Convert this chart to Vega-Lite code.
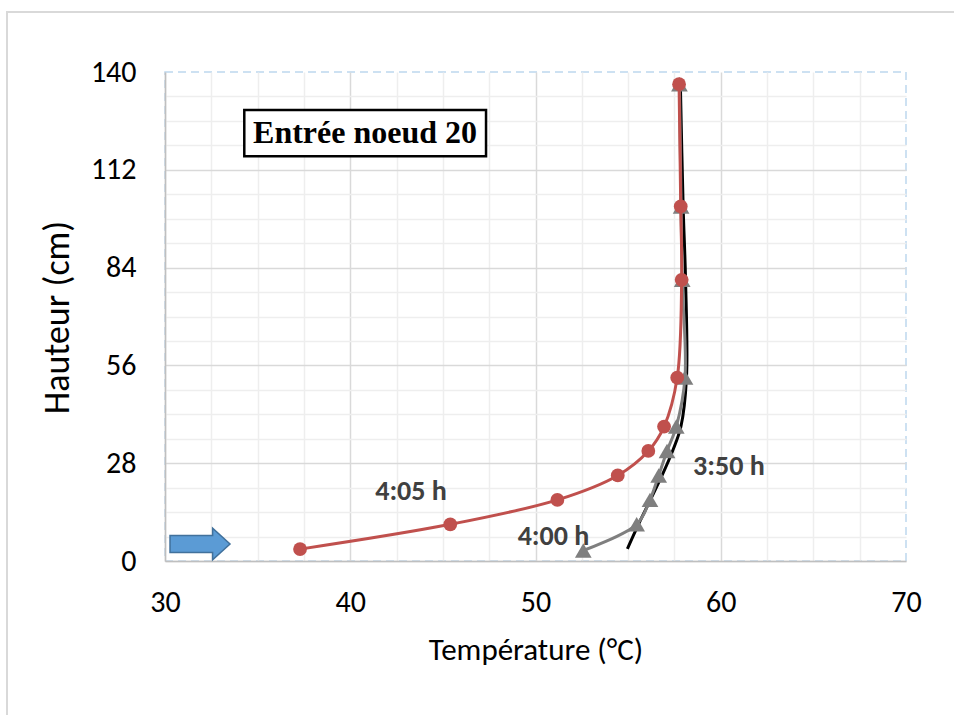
{
  "$schema": "https://vega.github.io/schema/vega-lite/v6.json",
  "width": 741,
  "height": 489,
  "autosize": "none",
  "padding": {"left": 165, "top": 72, "right": 48, "bottom": 154},
  "background": "white",
  "config": {
    "view": {"stroke": "#BDD7EE", "strokeDash": [8, 5], "strokeWidth": 1.5},
    "font": "Carlito, Lato, sans-serif"
  },
  "datasets": {
    "profils": [
      {"serie": "3:50 h", "T": 54.96, "h": 3.5},
      {"serie": "3:50 h", "T": 55.56, "h": 10.5},
      {"serie": "3:50 h", "T": 56.2, "h": 17.5},
      {"serie": "3:50 h", "T": 56.83, "h": 24.5},
      {"serie": "3:50 h", "T": 57.4, "h": 31.5},
      {"serie": "3:50 h", "T": 57.85, "h": 38.5},
      {"serie": "3:50 h", "T": 58.15, "h": 52.5},
      {"serie": "3:50 h", "T": 58.1, "h": 80.5},
      {"serie": "3:50 h", "T": 57.97, "h": 101.5},
      {"serie": "3:50 h", "T": 57.82, "h": 136.5},
      {"serie": "4:00 h", "T": 52.58, "h": 3.0},
      {"serie": "4:00 h", "T": 55.46, "h": 10.5},
      {"serie": "4:00 h", "T": 56.18, "h": 17.5},
      {"serie": "4:00 h", "T": 56.65, "h": 24.5},
      {"serie": "4:00 h", "T": 57.1, "h": 31.5},
      {"serie": "4:00 h", "T": 57.6, "h": 38.5},
      {"serie": "4:00 h", "T": 58.07, "h": 52.5},
      {"serie": "4:00 h", "T": 57.92, "h": 80.5},
      {"serie": "4:00 h", "T": 57.86, "h": 101.5},
      {"serie": "4:00 h", "T": 57.77, "h": 136.5},
      {"serie": "4:05 h", "T": 37.29, "h": 3.4},
      {"serie": "4:05 h", "T": 45.4, "h": 10.5},
      {"serie": "4:05 h", "T": 51.18, "h": 17.5},
      {"serie": "4:05 h", "T": 54.44, "h": 24.5},
      {"serie": "4:05 h", "T": 56.09, "h": 31.5},
      {"serie": "4:05 h", "T": 56.94, "h": 38.5},
      {"serie": "4:05 h", "T": 57.65, "h": 52.5},
      {"serie": "4:05 h", "T": 57.89, "h": 80.5},
      {"serie": "4:05 h", "T": 57.84, "h": 101.5},
      {"serie": "4:05 h", "T": 57.75, "h": 136.5}
    ],
    "etiquettes": [
      {"label": "4:05 h", "T": 43.28, "h": 19.75},
      {"label": "4:00 h", "T": 50.97, "h": 6.73},
      {"label": "3:50 h", "T": 60.44, "h": 26.9}
    ],
    "fleche": [{"T": 31.89, "h": 4.87}]
  },
  "resolve": {"axis": {"x": "independent", "y": "independent"}},
  "layer": [
    {
      "data": {"values": [{}]},
      "mark": {"type": "rect", "fill": null, "stroke": "#D9D9D9", "strokeWidth": 2},
      "encoding": {
        "x": {"datum": 21.47, "type": "quantitative", "scale": {"domain": [30, 70], "nice": false, "zero": false}, "axis": null},
        "x2": {"datum": 80},
        "y": {"datum": 157.2, "type": "quantitative", "scale": {"domain": [0, 140], "nice": false, "zero": false}, "axis": null},
        "y2": {"datum": -60}
      }
    },
    {
      "data": {"name": "profils"},
      "transform": [{"filter": "datum.serie == '3:50 h'"}],
      "mark": {"type": "line", "color": "#000000", "strokeWidth": 3, "interpolate": "catmull-rom"},
      "encoding": {
        "x": {
          "field": "T", "type": "quantitative",
          "scale": {"domain": [30, 70], "nice": false, "zero": false},
          "axis": {"orient": "bottom", "values": [32.5, 35, 37.5, 42.5, 45, 47.5, 52.5, 55, 57.5, 62.5, 65, 67.5], "grid": true, "gridColor": "#EEEEEE", "gridWidth": 1.5, "labels": false, "ticks": false, "domain": false, "title": null}
        },
        "y": {
          "field": "h", "type": "quantitative",
          "scale": {"domain": [0, 140], "nice": false, "zero": false},
          "axis": {"orient": "left", "values": [7, 14, 21, 35, 42, 49, 63, 70, 77, 91, 98, 105, 119, 126, 133], "grid": true, "gridColor": "#EEEEEE", "gridWidth": 1.5, "labels": false, "ticks": false, "domain": false, "title": null}
        },
        "order": {"field": "h", "type": "quantitative"}
      }
    },
    {
      "data": {"name": "profils"},
      "transform": [{"filter": "datum.serie == '4:00 h'"}],
      "mark": {"type": "line", "color": "#7F7F7F", "strokeWidth": 3, "interpolate": "catmull-rom", "point": {"shape": "triangle-up", "size": 280, "filled": true, "color": "#7F7F7F", "opacity": 1}},
      "encoding": {
        "x": {
          "field": "T", "type": "quantitative",
          "scale": {"domain": [30, 70], "nice": false, "zero": false},
          "axis": {
            "orient": "bottom", "values": [30, 40, 50, 60, 70], "grid": true,
            "gridColor": "#D9D9D9", "gridWidth": 1.5,
            "gridOpacity": {"condition": {"test": "datum.value == 70", "value": 0}, "value": 1},
            "domain": true, "domainColor": "#BFBFBF", "domainWidth": 1.5, "ticks": false,
            "labelFlush": false, "labelOverlap": false,
            "labelFontSize": 30, "labelColor": "#000000", "labelPadding": 26, "labelFont": "Carlito, Lato, sans-serif",
            "title": "Température (°C)", "titleFontSize": 31, "titleFontWeight": "normal", "titleColor": "#000000", "titleFont": "Carlito, Lato, sans-serif",
            "titleBaseline": "alphabetic", "titleY": 98, "titleX": 370.5, "titleAlign": "center"
          }
        },
        "y": {
          "field": "h", "type": "quantitative",
          "scale": {"domain": [0, 140], "nice": false, "zero": false},
          "axis": {
            "orient": "left", "values": [0, 28, 56, 84, 112, 140], "grid": true,
            "gridColor": "#D9D9D9", "gridWidth": 1.5,
            "gridOpacity": {"condition": {"test": "datum.value == 140", "value": 0}, "value": 1},
            "domain": true, "domainColor": "#BFBFBF", "domainWidth": 1.5, "ticks": false,
            "labelFlush": false, "labelOverlap": false,
            "labelFontSize": 30, "labelColor": "#000000", "labelPadding": 29, "labelFont": "Carlito, Lato, sans-serif",
            "title": "Hauteur (cm)", "titleFontSize": 36, "titleFontWeight": "normal", "titleColor": "#000000", "titleFont": "Carlito, Lato, sans-serif",
            "titleAngle": -90, "titleBaseline": "alphabetic", "titleAlign": "center", "titleX": -97, "titleY": 245
          }
        },
        "order": {"field": "h", "type": "quantitative"}
      }
    },
    {
      "data": {"name": "profils"},
      "transform": [{"filter": "datum.serie == '4:05 h'"}],
      "mark": {"type": "line", "color": "#C0504D", "strokeWidth": 3, "interpolate": "catmull-rom", "point": {"shape": "circle", "size": 190, "filled": true, "color": "#C0504D", "opacity": 1}},
      "encoding": {
        "x": {"field": "T", "type": "quantitative", "scale": {"domain": [30, 70], "nice": false, "zero": false}, "axis": null},
        "y": {"field": "h", "type": "quantitative", "scale": {"domain": [0, 140], "nice": false, "zero": false}, "axis": null},
        "order": {"field": "h", "type": "quantitative"}
      }
    },
    {
      "data": {"name": "etiquettes"},
      "mark": {"type": "text", "font": "Carlito, Lato, sans-serif", "fontWeight": "bold", "fontSize": 28, "color": "#404040", "align": "center", "baseline": "middle"},
      "encoding": {
        "x": {"field": "T", "type": "quantitative", "axis": null},
        "y": {"field": "h", "type": "quantitative", "axis": null},
        "text": {"field": "label"}
      }
    },
    {
      "data": {"name": "fleche"},
      "mark": {"type": "point", "shape": "M -1 -0.28 L 0.42 -0.28 L 0.42 -0.53 L 1 0 L 0.42 0.53 L 0.42 0.28 L -1 0.28 Z", "size": 3600, "filled": true, "fill": "#5B9BD5", "stroke": "#41719C", "strokeWidth": 1.5, "opacity": 1, "fillOpacity": 1},
      "encoding": {
        "x": {"field": "T", "type": "quantitative", "axis": null},
        "y": {"field": "h", "type": "quantitative", "axis": null}
      }
    },
    {
      "data": {"values": [{}]},
      "mark": {"type": "rect", "fill": "#FFFFFF", "stroke": "#000000", "strokeWidth": 2.5},
      "encoding": {
        "x": {"datum": 34.28, "type": "quantitative", "axis": null},
        "x2": {"datum": 47.33},
        "y": {"datum": 129.1, "type": "quantitative", "axis": null},
        "y2": {"datum": 115.9}
      }
    },
    {
      "data": {"values": [{}]},
      "mark": {"type": "text", "font": "Liberation Serif", "fontWeight": "bold", "fontSize": 32, "color": "#000000", "align": "center", "baseline": "middle", "text": "Entrée noeud 20"},
      "encoding": {
        "x": {"datum": 40.8, "type": "quantitative", "axis": null},
        "y": {"datum": 122.5, "type": "quantitative", "axis": null}
      }
    }
  ]
}
